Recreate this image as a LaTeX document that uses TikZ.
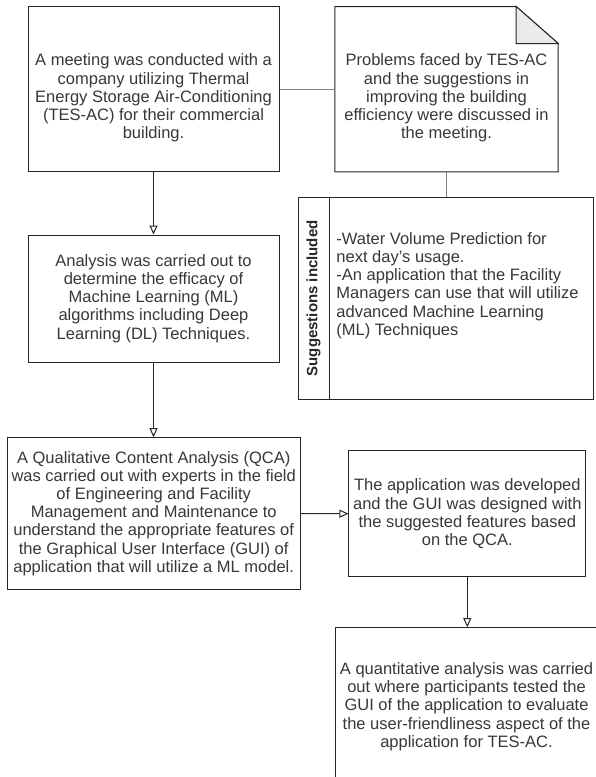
\documentclass[tikz,border=0pt]{standalone}
\usepackage{fontspec}
\setmainfont{Liberation Sans}
\usepackage{tikz}
\usetikzlibrary{arrows.meta}
\usetikzlibrary{calc}

\tikzset{
  box/.style={draw=black!85, line width=1pt, fill=white, inner sep=0pt},
  txt/.style={align=center, text=black!78, inner sep=0.75pt, font=\fontsize{16.5}{18.2}\selectfont},
  link/.style={draw=black!50, line width=0.9pt},
  flow/.style={draw=black!85, line width=1pt, -{Triangle[open,length=9pt,width=8pt]}},
}

\begin{document}
\begin{tikzpicture}[x=1pt,y=1pt,yscale=-1,xscale=1]
    \useasboundingbox (0,0) rectangle (595,777);
    \draw (153.5,89.2) node [box, minimum width=251, minimum height=165] (meet) {};
    \draw (153.5,98) node [txt] (meet-t) {A meeting was conducted with a\\company utilizing Thermal\\Energy Storage Air-Conditioning\\(TES-AC) for their commercial\\building.};
    \draw (446.5,89.2) node [inner sep=0pt, minimum width=223, minimum height=165] (probs) {};
    \draw [box] (probs.north west) -- ($(probs.north east)+(-42,0)$) -- ($(probs.north east)+(0,37)$) -- (probs.south east) -- (probs.south west) -- cycle ;
    \draw [box, fill=black!8] ($(probs.north east)+(-42,0)$) -- ($(probs.north east)+(-42,37)$) -- ($(probs.north east)+(0,37)$) -- cycle ;
    \draw (446.5,98) node [txt] (probs-t) {Problems faced by TES-AC\\and the suggestions in\\improving the building\\efficiency were discussed in\\the meeting.};
    \draw (153.5,298.5) node [box, minimum width=251, minimum height=127] (anal) {};
    \draw (anal.center) node [txt] (anal-t) {Analysis was carried out to\\determine the efficacy of\\Machine Learning (ML)\\algorithms including Deep\\Learning (DL) Techniques.};
    \draw (445.7,298.3) node [box, minimum width=295, minimum height=202] (sugg) {};
    \draw [box] ($(sugg.north west)+(31.5,0)$) -- ($(sugg.south west)+(31.5,0)$) ;
    \draw ($(sugg.west)+(15.8,0)$) node [rotate=90, text=black!85, inner sep=0.75pt, font=\fontsize{15}{18}\selectfont\bfseries] (sugg-title) {Suggestions included};
    \draw (335.5,285.5) node [txt, anchor=west, align=left] (sugg-t) {-Water Volume Prediction for\\next day's usage.\\-An application that the Facility\\Managers can use that will utilize\\advanced Machine Learning\\(ML) Techniques};
    \draw (153.7,513.5) node [box, minimum width=292.7, minimum height=151.6] (qca) {};
    \draw (qca.center) node [txt] (qca-t) {A Qualitative Content Analysis (QCA)\\was carried out with experts in the field\\of Engineering and Facility\\Management and Maintenance to\\understand the appropriate features of\\the Graphical User Interface (GUI) of\\application that will utilize a ML model.};
    \draw (467.3,513.7) node [box, minimum width=236.7, minimum height=126] (app) {};
    \draw (app.center) node [txt] (app-t) {The application was developed\\and the GUI was designed with\\the suggested features based\\on the QCA.};
    \draw (466.5,706.7) node [box, minimum width=263, minimum height=158] (quant) {};
    \draw (quant.center) node [txt] (quant-t) {A quantitative analysis was carried\\out where participants tested the\\GUI of the application to evaluate\\the user-friendliness aspect of the\\application for TES-AC.};
    \draw [link] (meet.east) -- (probs.west) ;
    \draw [link] (probs.south) -- (probs.south |- sugg.north) ;
    \draw [flow] (meet.south) -- (anal.north) ;
    \draw [flow] (anal.south) -- (anal.south |- qca.north) ;
    \draw [flow] (qca.east) -- (app.west) ;
    \draw [flow] (app.south) -- (app.south |- quant.north) ;
\end{tikzpicture}
\end{document}
